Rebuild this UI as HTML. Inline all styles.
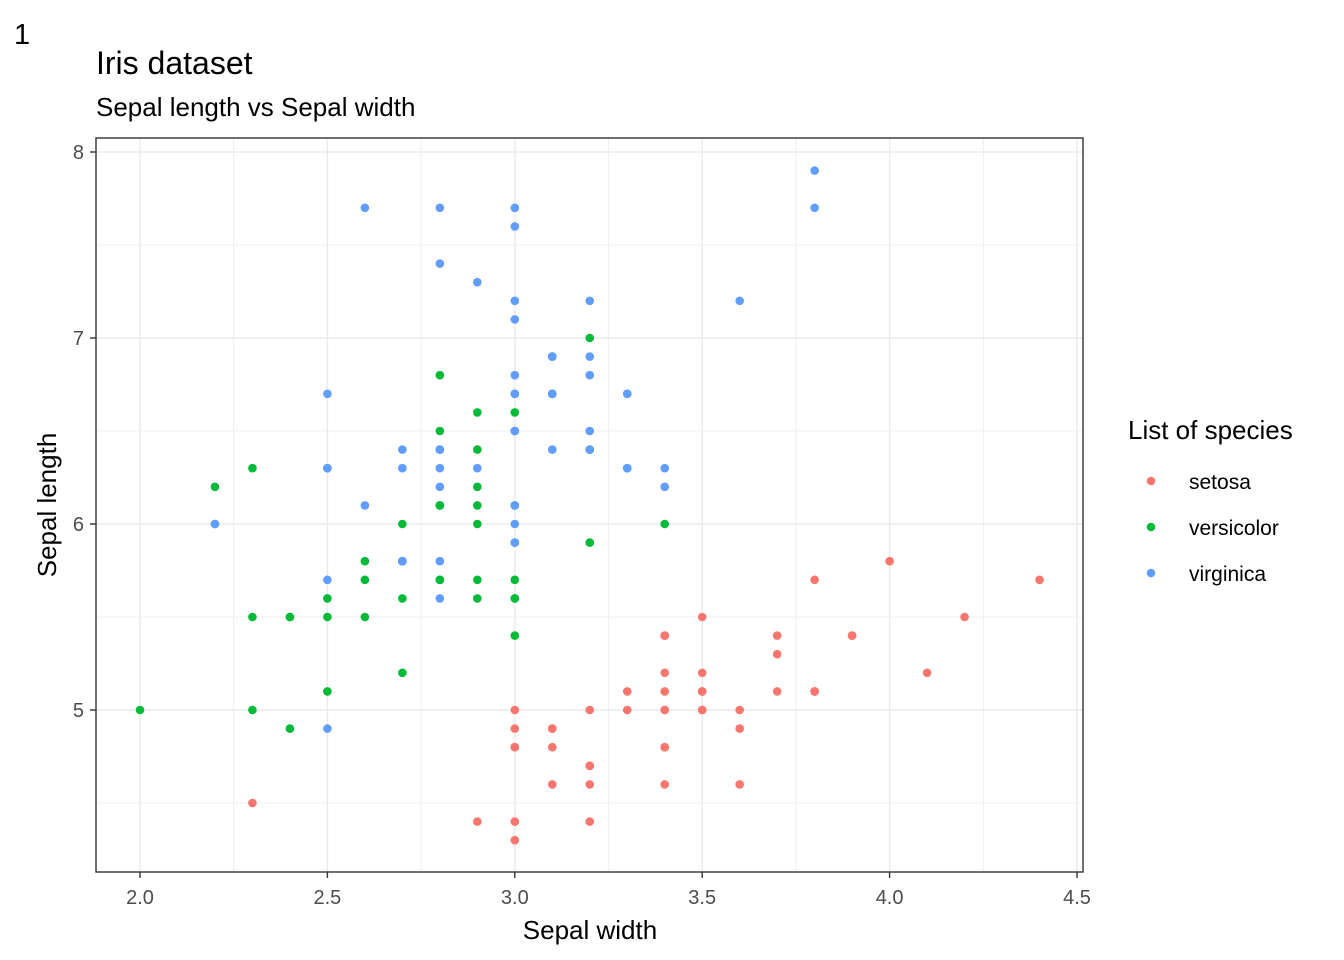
<!DOCTYPE html>
<html><head><meta charset="utf-8"><style>
html,body{margin:0;padding:0;background:#fff}
svg{display:block;font-family:"Liberation Sans",Arial,sans-serif}
</style></head><body>
<svg id="chart" width="1344" height="960">
<text x="14" y="44" font-size="29" fill="#000">1</text>
<text x="96" y="74" font-size="32" fill="#000">Iris dataset</text>
<text x="96" y="116" font-size="26" fill="#000">Sepal length vs Sepal width</text>
<g id="grid"></g>
<g id="points"></g>
<rect x="96" y="138" width="987" height="734" fill="none" stroke="#333" stroke-width="1.4"/>
<g id="axes"></g>
<text x="590" y="939" font-size="26" text-anchor="middle" fill="#000">Sepal width</text>
<text transform="translate(56,505) rotate(-90)" font-size="26" text-anchor="middle" fill="#000">Sepal length</text>
<g>
<text x="1128" y="439" font-size="26" fill="#000">List of species</text>
<g><circle cx="1151" cy="481" r="4.3" fill="#F8766D"/><text x="1189" y="489" font-size="21">setosa</text></g>
<g><circle cx="1151" cy="527" r="4.3" fill="#00BA38"/><text x="1189" y="535" font-size="21">versicolor</text></g>
<g><circle cx="1151" cy="573" r="4.3" fill="#619CFF"/><text x="1189" y="581" font-size="21">virginica</text></g>
</g>
</svg>
<script>
const species = ["setosa","versicolor","virginica"];
const colors = ["#F8766D","#00BA38","#619CFF"];
const setosaLength = [5.1,4.9,4.7,4.6,5.0,5.4,4.6,5.0,4.4,4.9,5.4,4.8,4.8,4.3,5.8,5.7,5.4,5.1,5.7,5.1,5.4,5.1,4.6,5.1,4.8,5.0,5.0,5.2,5.2,4.7,4.8,5.4,5.2,5.5,4.9,5.0,5.5,4.9,4.4,5.1,5.0,4.5,4.4,5.0,5.1,4.8,5.1,4.6,5.3,5.0];
const setosaWidth = [3.5,3.0,3.2,3.1,3.6,3.9,3.4,3.4,2.9,3.1,3.7,3.4,3.0,3.0,4.0,4.4,3.9,3.5,3.8,3.8,3.4,3.7,3.6,3.3,3.4,3.0,3.4,3.5,3.4,3.2,3.1,3.4,4.1,4.2,3.1,3.2,3.5,3.6,3.0,3.4,3.5,2.3,3.2,3.5,3.8,3.0,3.8,3.2,3.7,3.3];
const versicolorLength = [7.0,6.4,6.9,5.5,6.5,5.7,6.3,4.9,6.6,5.2,5.0,5.9,6.0,6.1,5.6,6.7,5.6,5.8,6.2,5.6,5.9,6.1,6.3,6.1,6.4,6.6,6.8,6.7,6.0,5.7,5.5,5.5,5.8,6.0,5.4,6.0,6.7,6.3,5.6,5.5,5.5,6.1,5.8,5.0,5.6,5.7,5.7,6.2,5.1,5.7];
const versicolorWidth = [3.2,3.2,3.1,2.3,2.8,2.8,3.3,2.4,2.9,2.7,2.0,3.0,2.2,2.9,2.9,3.1,3.0,2.7,2.2,2.5,3.2,2.8,2.5,2.8,2.9,3.0,2.8,3.0,2.9,2.6,2.4,2.4,2.7,2.7,3.0,3.4,3.1,2.3,3.0,2.5,2.6,3.0,2.6,2.3,2.7,3.0,2.9,2.9,2.5,2.8];
const virginicaLength = [6.3,5.8,7.1,6.3,6.5,7.6,4.9,7.3,6.7,7.2,6.5,6.4,6.8,5.7,5.8,6.4,6.5,7.7,7.7,6.0,6.9,5.6,7.7,6.3,6.7,7.2,6.2,6.1,6.4,7.2,7.4,7.9,6.4,6.3,6.1,7.7,6.3,6.4,6.0,6.9,6.7,6.9,5.8,6.8,6.7,6.7,6.3,6.5,6.2,5.9];
const virginicaWidth = [3.3,2.7,3.0,2.9,3.0,3.0,2.5,2.9,2.5,3.6,3.2,2.7,3.0,2.5,2.8,3.2,3.0,3.8,2.6,2.2,3.2,2.8,2.8,2.7,3.3,3.2,2.8,3.0,2.8,3.0,2.8,3.8,2.8,2.8,2.6,3.0,3.4,3.1,3.0,3.1,3.1,3.1,2.7,3.2,3.3,3.0,2.5,3.0,3.4,3.0];
const xTicks = [2.0,2.5,3.0,3.5,4.0,4.5];
const xTickLabels = ["2.0","2.5","3.0","3.5","4.0","4.5"];
const xMinor = [2.25,2.75,3.25,3.75,4.25];
const yTicks = [5,6,7,8];
const yTickLabels = ["5","6","7","8"];
const yMinor = [4.5,5.5,6.5,7.5];

const NS="http://www.w3.org/2000/svg";
const X0=96,X1=1083,Y0=138,Y1=872;
function sx(v){return 140+(v-2.0)*(1077-140)/2.5;}
function sy(v){return 710-(v-5)*186;}
function mk(tag,attrs,parent){const e=document.createElementNS(NS,tag);for(const k in attrs)e.setAttribute(k,attrs[k]);parent.appendChild(e);return e;}
const grid=document.getElementById('grid'),axes=document.getElementById('axes'),pts=document.getElementById('points');
xMinor.forEach(v=>{const l=mk('line',{x1:sx(v),x2:sx(v),y1:Y0,y2:Y1,stroke:'#ebebeb','stroke-width':0.8},grid);

});
yMinor.forEach(v=>{const l=mk('line',{x1:X0,x2:X1,y1:sy(v),y2:sy(v),stroke:'#ebebeb','stroke-width':0.8},grid);

});
xTicks.forEach((v,i)=>{const l=mk('line',{x1:sx(v),x2:sx(v),y1:Y0,y2:Y1,stroke:'#ebebeb','stroke-width':1.5},grid);


const t=mk('line',{x1:sx(v),x2:sx(v),y1:Y1,y2:Y1+6,stroke:'#333','stroke-width':1.4},axes);


const tx=mk('text',{x:sx(v),y:Y1+32,'font-size':20,'text-anchor':'middle',fill:'#4d4d4d'},axes);tx.textContent=xTickLabels[i];

});
yTicks.forEach((v,i)=>{const l=mk('line',{x1:X0,x2:X1,y1:sy(v),y2:sy(v),stroke:'#ebebeb','stroke-width':1.5},grid);


const t=mk('line',{x1:X0-6,x2:X0,y1:sy(v),y2:sy(v),stroke:'#333','stroke-width':1.4},axes);


const tx=mk('text',{x:X0-12,y:sy(v)+7,'font-size':20,'text-anchor':'end',fill:'#4d4d4d'},axes);tx.textContent=yTickLabels[i];

});
const series=[[setosaWidth,setosaLength],[versicolorWidth,versicolorLength],[virginicaWidth,virginicaLength]];
series.forEach((s,k)=>{s[0].forEach((w,i)=>{const c=mk('circle',{cx:sx(w),cy:sy(s[1][i]),r:4.3,fill:colors[k]},pts);

});});
</script>
</body></html>
